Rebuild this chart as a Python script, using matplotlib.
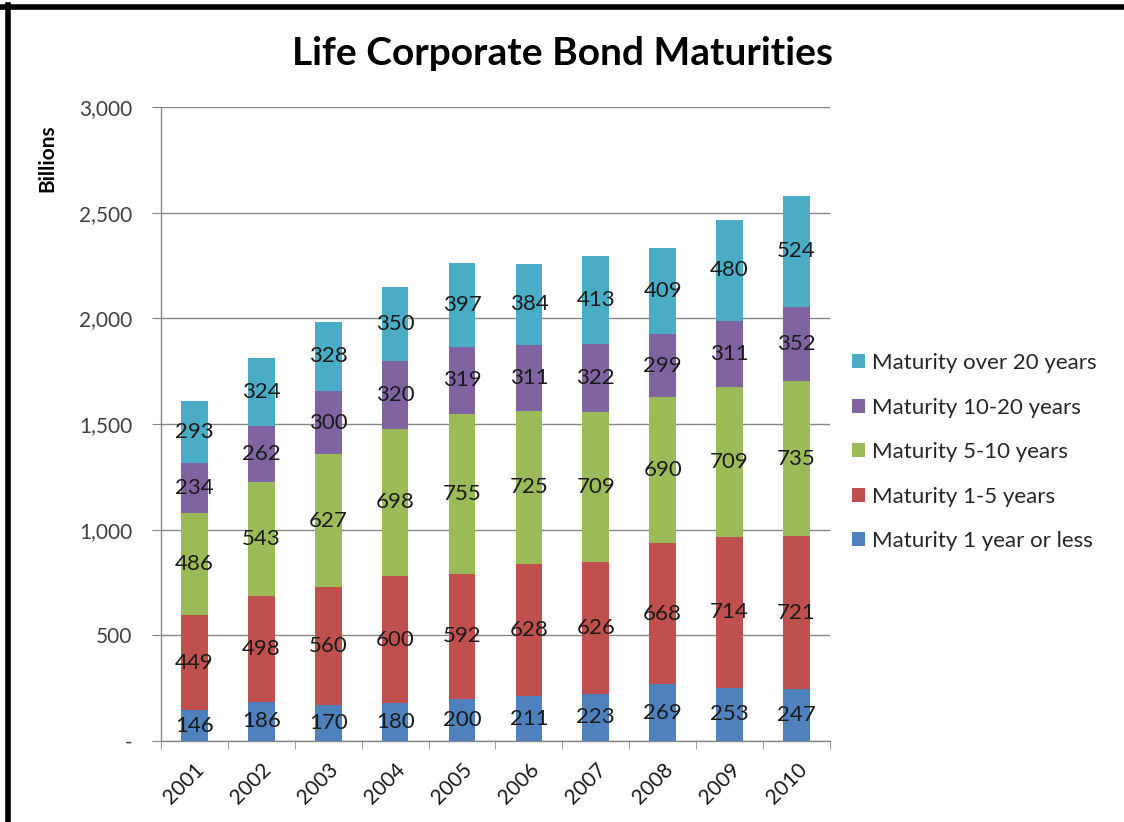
import numpy as np
import matplotlib
matplotlib.use('Agg')
import matplotlib.pyplot as plt
from matplotlib.lines import Line2D
from matplotlib.ticker import FuncFormatter, FixedLocator

plt.rcParams['font.family'] = ['Lato', 'DejaVu Sans']

# Datos
years = ['2001', '2002', '2003', '2004', '2005', '2006', '2007', '2008', '2009', '2010']
le_1 = [146, 186, 170, 180, 200, 211, 223, 269, 253, 247]
y1_5 = [449, 498, 560, 600, 592, 628, 626, 668, 714, 721]
y5_10 = [486, 543, 627, 698, 755, 725, 709, 690, 709, 735]
y10_20 = [234, 262, 300, 320, 319, 311, 322, 299, 311, 352]
over_20 = [293, 324, 328, 350, 397, 384, 413, 409, 480, 524]

series = [
    ('Maturity 1 year or less', le_1, '#4F81BD'),
    ('Maturity 1-5 years', y1_5, '#C0504D'),
    ('Maturity 5-10 years', y5_10, '#9BBB59'),
    ('Maturity 10-20 years', y10_20, '#8064A2'),
    ('Maturity over 20 years', over_20, '#4BACC6'),
]

fig = plt.figure(figsize=(11.24, 8.22), dpi=100)
ax = fig.add_axes([0.1432, 0.0985, 0.5952, 0.7713])

x = np.arange(len(years))
bottom = np.zeros(len(years))
handles = []
for name, vals, color in series:
    vals = np.array(vals, dtype=float)
    bars = ax.bar(x, vals, width=0.4, bottom=bottom, color=color, zorder=3)
    for xi, b, v in zip(x, bottom, vals):
        ax.text(xi, b + v / 2, str(int(v)), ha='center', va='center',
                fontsize=16, color='#1a1a1a', zorder=4)
    bottom += vals
    handles.append(bars)

# Ejes
ax.set_xlim(-0.5, len(years) - 0.5)
ax.set_ylim(0, 3000)
ax.set_yticks(np.arange(0, 3001, 500))
ax.yaxis.set_major_formatter(FuncFormatter(lambda v, p: '-' if v == 0 else '{:,.0f}'.format(v)))
ax.grid(axis='y', color='#868686', linewidth=1, zorder=0)
ax.set_axisbelow(True)
for s in ['top', 'right']:
    ax.spines[s].set_visible(False)
for s in ['left', 'bottom']:
    ax.spines[s].set_color('#868686')
    ax.spines[s].set_linewidth(1)
ax.tick_params(axis='y', direction='out', length=6.5, color='#868686',
               labelsize=15, labelcolor='#404040', pad=14)

ax.set_xticks(x)
ax.set_xticklabels(years, rotation=45, ha='right', rotation_mode='anchor')
ax.tick_params(axis='x', which='major', length=0, labelsize=15, labelcolor='#1a1a1a', pad=13)
ax.xaxis.set_minor_locator(FixedLocator(np.arange(-0.5, len(years), 1)))
ax.tick_params(axis='x', which='minor', direction='out', length=6, color='#868686')

fig.text(0.5, 0.935, 'Life Corporate Bond Maturities', ha='center', va='center',
         fontsize=28, fontweight='bold', color='black')
fig.text(0.042, 0.808, 'Billions', rotation=90, ha='center', va='center',
         fontsize=15, fontweight='bold', color='black')

leg = fig.legend(handles[::-1], [s[0] for s in series][::-1], loc='center left',
                 bbox_to_anchor=(0.74, 0.45), frameon=False, fontsize=16,
                 handlelength=0.6, handleheight=0.6, handletextpad=0.3,
                 labelspacing=1.1)
for t in leg.get_texts():
    t.set_color('#262626')

# Marco
fig.add_artist(Line2D([0, 1], [0.9915, 0.9915], color='black', linewidth=4, transform=fig.transFigure))
fig.add_artist(Line2D([0.0075, 0.0075], [0, 0.994], color='black', linewidth=4, transform=fig.transFigure))

fig.savefig('out.png', dpi=100)
